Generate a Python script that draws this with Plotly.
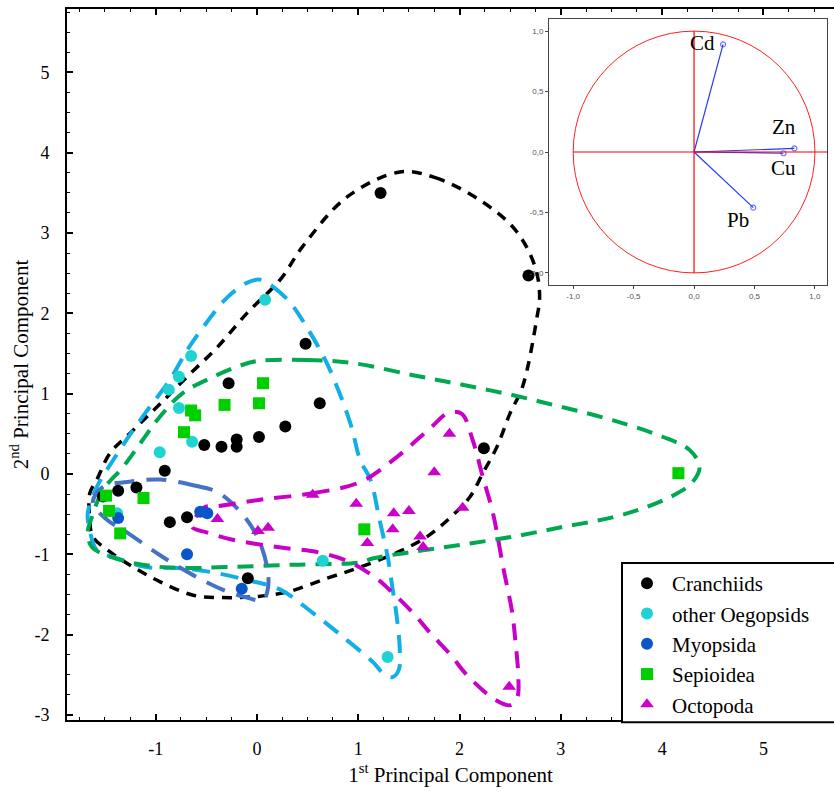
import plotly.graph_objects as go

# ---- PCA scores (PC1, PC2) by group ----
cran_x = [1.22, 2.68, 0.48, -0.28, 0.62, 0.28, 0.02, -0.20, -0.20, -0.35, -0.52, -0.91,
          -1.19, -1.37, -1.52, -0.86, -0.69, -0.09, 2.24]
cran_y = [3.50, 2.47, 1.62, 1.13, 0.88, 0.59, 0.46, 0.43, 0.34, 0.34, 0.36, 0.04,
          -0.17, -0.21, -0.28, -0.60, -0.54, -1.30, 0.32]

oeg_x = [0.08, -0.65, -0.77, -0.87, -0.77, -0.64, -0.96, -1.38, 0.65, 1.29]
oeg_y = [2.17, 1.47, 1.21, 1.05, 0.82, 0.40, 0.27, -0.49, -1.08, -2.28]

myo_x = [-0.56, -0.49, -1.37, -0.69, -0.15]
myo_y = [-0.47, -0.49, -0.55, -1.00, -1.43]

sep_x = [0.06, 0.02, -0.32, -0.65, -0.61, -0.72, -1.12, -1.49, -1.46, -1.35, 1.06, 4.16]
sep_y = [1.13, 0.88, 0.86, 0.79, 0.73, 0.52, -0.30, -0.27, -0.46, -0.74, -0.69, 0.01]

oct_x = [-0.39, 0.01, 0.11, 0.55, 0.98, 1.35, 1.50, 1.34, 1.09, 1.61, 1.64, 1.90, 1.75, 2.03, 2.49]
oct_y = [-0.56, -0.71, -0.67, -0.26, -0.37, -0.49, -0.46, -0.69, -0.86, -0.78, -0.91, 0.50, 0.02, -0.42, -2.65]

# ---- hand-drawn group envelopes ----
cran_env_x = [1.41, 1.76, 2.20, 2.55, 2.74, 2.79, 2.76, 2.62, 2.50, 2.37, 2.23, 2.10, 1.91, 1.68,
              1.38, 1.02, 0.69, 0.30, -0.04, -0.34, -0.63, -0.96, -1.22, -1.45, -1.62, -1.65,
              -1.65, -1.58, -1.45, -1.25, -0.99, -0.69, -0.39, -0.10, 0.23, 0.45, 0.89, 1.41]
cran_env_y = [3.76, 3.69, 3.41, 3.04, 2.60, 2.23, 1.92, 1.08, 0.76, 0.34, 0.01, -0.29, -0.54, -0.78,
              -0.98, -1.16, -1.30, -1.47, -1.53, -1.54, -1.51, -1.34, -1.16, -0.97, -0.78, -0.57,
              -0.24, -0.07, 0.26, 0.51, 0.83, 1.21, 1.58, 2.00, 2.42, 2.83, 3.45, 3.76]

oeg_env_x = [0.03, 0.16, 0.33, 0.49, 0.69, 0.92, 1.02, 1.12, 1.21, 1.29, 1.34, 1.38, 1.41, 1.40,
             1.34, 1.26, 1.15, 0.85, 0.55, 0.23, -0.10, -0.46, -0.79, -1.09, -1.38, -1.58, -1.65,
             -1.67, -1.58, -1.42, -1.22, -1.06, -0.86, -0.69, -0.53, -0.30, -0.10, 0.03]
oeg_env_y = [2.42, 2.33, 2.13, 1.83, 1.38, 0.64, 0.17, -0.07, -0.57, -1.03, -1.44, -1.78, -2.19, -2.44,
             -2.53, -2.50, -2.35, -2.03, -1.73, -1.44, -1.32, -1.22, -1.17, -1.16, -1.05, -0.95, -0.70,
             -0.49, -0.16, 0.17, 0.55, 0.83, 1.17, 1.54, 1.83, 2.19, 2.38, 2.42]

sep_env_x = [0.03, 0.49, 0.95, 1.54, 2.03, 2.53, 3.02, 3.51, 4.01, 4.27, 4.37, 4.30, 4.15, 3.85,
             3.51, 3.02, 2.53, 2.03, 1.54, 1.15, 1.02, 0.36, -0.30, -0.79, -1.13, -1.45, -1.63,
             -1.67, -1.63, -1.52, -1.32, -1.13, -0.96, -0.73, -0.43, -0.14, 0.03]
sep_env_y = [1.41, 1.42, 1.38, 1.23, 1.11, 0.98, 0.83, 0.67, 0.46, 0.30, 0.09, -0.10, -0.24, -0.41,
             -0.54, -0.66, -0.78, -0.88, -0.97, -1.05, -1.10, -1.13, -1.16, -1.17, -1.13, -1.03, -0.91,
             -0.73, -0.54, -0.20, 0.09, 0.42, 0.71, 1.01, 1.21, 1.36, 1.41]

myo_env_x = [-0.96, -0.63, -0.37, -0.10, 0.03, 0.10, 0.11, 0.06, -0.10, -0.34, -0.63, -0.96,
             -1.28, -1.48, -1.62, -1.52, -1.28, -0.96]
myo_env_y = [-0.07, -0.14, -0.24, -0.57, -0.86, -1.16, -1.41, -1.57, -1.54, -1.44, -1.26, -1.01,
             -0.73, -0.57, -0.36, -0.16, -0.10, -0.07]

oct_env_x = [0.03, 0.55, 1.02, 1.38, 1.71, 1.89, 2.02, 2.13, 2.23, 2.33, 2.43, 2.52, 2.55, 2.58,
             2.57, 2.50, 2.35, 2.07, 1.91, 1.71, 1.54, 1.29, 1.18, 0.92, 0.62, 0.20, -0.24, -0.49,
             -0.64, -0.59, -0.51, -0.39, 0.03]
oct_env_y = [-0.32, -0.24, -0.10, 0.21, 0.57, 0.76, 0.75, 0.42, -0.04, -0.49, -1.16, -1.73, -2.07, -2.53,
             -2.78, -2.88, -2.81, -2.50, -2.25, -1.98, -1.73, -1.42, -1.30, -1.10, -0.98, -0.91, -0.82, -0.73,
             -0.66, -0.51, -0.41, -0.40, -0.32]

# ---- loadings for the correlation circle ----
metals = ["Cd", "Zn", "Cu", "Pb"]
load_x = [0.24, 0.83, 0.74, 0.49]
load_y = [0.89, 0.03, -0.01, -0.46]
label_x = [0.07, 0.74, 0.74, 0.36]
label_y = [0.90, 0.21, -0.13, -0.56]

# ---- tick labels ----
pc1_ticks = [-1, 0, 1, 2, 3, 4, 5]
pc1_labels = ["-1", "0", "1", "2", "3", "4", "5"]
pc2_ticks = [-3, -2, -1, 0, 1, 2, 3, 4, 5]
pc2_labels = ["-3", "-2", "-1", "0", "1", "2", "3", "4", "5"]
circle_ticks = [-1.0, -0.5, 0.0, 0.5, 1.0]
circle_labels = ["-1,0", "-0,5", "0,0", "0,5", "1,0"]

SERIF = "Liberation Serif"

fig = go.Figure()

envelopes = [
    (cran_env_x, cran_env_y, "#000000", "10px,8px", 3.5),
    (oeg_env_x, oeg_env_y, "#12aee8", "18px,11px", 4),
    (sep_env_x, sep_env_y, "#00a84f", "16px,10px", 4),
    (myo_env_x, myo_env_y, "#4472c4", "20px,12px", 4),
    (oct_env_x, oct_env_y, "#c800c8", "17px,11px", 4),
]
for ex, ey, col, dash, w in envelopes:
    fig.add_trace(go.Scatter(x=ex, y=ey, mode="lines", showlegend=False, hoverinfo="skip",
                             line=dict(color=col, dash=dash, width=w, shape="spline", smoothing=1.0),
                             xaxis="x", yaxis="y"))

groups = [
    ("Cranchiids", cran_x, cran_y, "#000000", "circle", 12),
    ("other Oegopsids", oeg_x, oeg_y, "#1fd3d3", "circle", 12),
    ("Myopsida", myo_x, myo_y, "#0a55c8", "circle", 12),
    ("Sepioidea", sep_x, sep_y, "#00d000", "square", 12),
    ("Octopoda", oct_x, oct_y, "#cc00cc", "triangle-up", 12),
]
for name, gx, gy, col, sym, sz in groups:
    fig.add_trace(go.Scatter(x=gx, y=gy, mode="markers", name=name,
                             marker=dict(color=col, symbol=sym, size=sz, line=dict(width=0)),
                             xaxis="x", yaxis="y"))

# loading vectors in the inset
for mx, my in zip(load_x, load_y):
    fig.add_trace(go.Scatter(x=[0, mx], y=[0, my], mode="lines+markers", showlegend=False,
                             hoverinfo="skip",
                             line=dict(color="#2a3cf0", width=1.2),
                             marker=dict(size=[0, 5], symbol="circle-open", color="#2a3cf0",
                                         line=dict(width=1.2)),
                             xaxis="x2", yaxis="y2"))

for lab, lx, ly in zip(metals, label_x, label_y):
    fig.add_annotation(x=lx, y=ly, xref="x2", yref="y2", text=lab, showarrow=False,
                       font=dict(family=SERIF, size=21, color="black"))

# correlation circle and its axes
fig.add_shape(type="circle", xref="x2", yref="y2", x0=-1, y0=-1, x1=1, y1=1,
              line=dict(color="#ff2020", width=1))
fig.add_shape(type="line", xref="x2", yref="y2", x0=-1, y0=0, x1=1.1, y1=0,
              line=dict(color="#ff0000", width=1.2))
fig.add_shape(type="line", xref="x2", yref="y2", x0=0, y0=-1, x1=0, y1=1,
              line=dict(color="#ff0000", width=1.2))

# legend frame, running off the right edge and over the axis line
fig.add_shape(type="rect", xref="paper", yref="paper", x0=0.7236, x1=1.05, y0=-0.003, y1=0.2208,
              layer="above", fillcolor="white", line=dict(color="black", width=2))

axis_font = dict(family=SERIF, size=18, color="black")
minor_ticks = dict(tickmode="linear", tick0=0, dtick=0.25, ticks="inside", ticklen=3,
                   tickcolor="black", tickwidth=1)

fig.update_layout(
    width=834, height=794,
    margin=dict(l=67, r=0, t=9, b=74),
    paper_bgcolor="white", plot_bgcolor="white",
    showlegend=True,
    legend=dict(x=0.7236, y=0.2208, xanchor="left", yanchor="top",
                borderwidth=0, bgcolor="rgba(0,0,0,0)", itemwidth=40,
                font=dict(family=SERIF, size=21, color="black"),
                itemsizing="constant", tracegroupgap=0),
    xaxis=dict(domain=[0, 1], range=[-1.875, 5.696], showgrid=False, zeroline=False,
               showline=True, linecolor="black", linewidth=2, mirror="ticks",
               ticks="inside", ticklen=6, tickwidth=1.5, tickcolor="black",
               tickmode="array", tickvals=pc1_ticks, ticktext=pc1_labels,
               tickfont=axis_font, ticklabelstandoff=11, minor=minor_ticks,
               title=dict(text="1<sup>st</sup> Principal Component",
                          font=dict(family=SERIF, size=21, color="black"), standoff=10)),
    yaxis=dict(domain=[0, 1], range=[-3.064, 5.79], showgrid=False, zeroline=False,
               showline=True, linecolor="black", linewidth=2, mirror=False,
               ticks="inside", ticklen=6, tickwidth=1.5, tickcolor="black",
               tickmode="array", tickvals=pc2_ticks, ticktext=pc2_labels,
               tickfont=axis_font, ticklabelstandoff=12, minor=minor_ticks,
               title=dict(text="2<sup>nd</sup> Principal Component",
                          font=dict(family=SERIF, size=21, color="black"), standoff=0)),
    xaxis2=dict(domain=[0.6284, 0.9909], anchor="y2", range=[-1.2, 1.1], showgrid=False,
                zeroline=False, showline=True, linecolor="#444444", linewidth=1, mirror=True,
                ticks="outside", ticklen=3, tickcolor="#444444",
                tickvals=circle_ticks, ticktext=circle_labels,
                tickfont=dict(family="Liberation Sans", size=8, color="#555555")),
    yaxis2=dict(domain=[0.6118, 0.9859], anchor="x2", range=[-1.1, 1.1], showgrid=False,
                zeroline=False, showline=True, linecolor="#444444", linewidth=1, mirror=True,
                ticks="outside", ticklen=3, tickcolor="#444444",
                tickvals=circle_ticks, ticktext=circle_labels,
                tickfont=dict(family="Liberation Sans", size=8, color="#555555")),
)

fig.write_html("out.html")
